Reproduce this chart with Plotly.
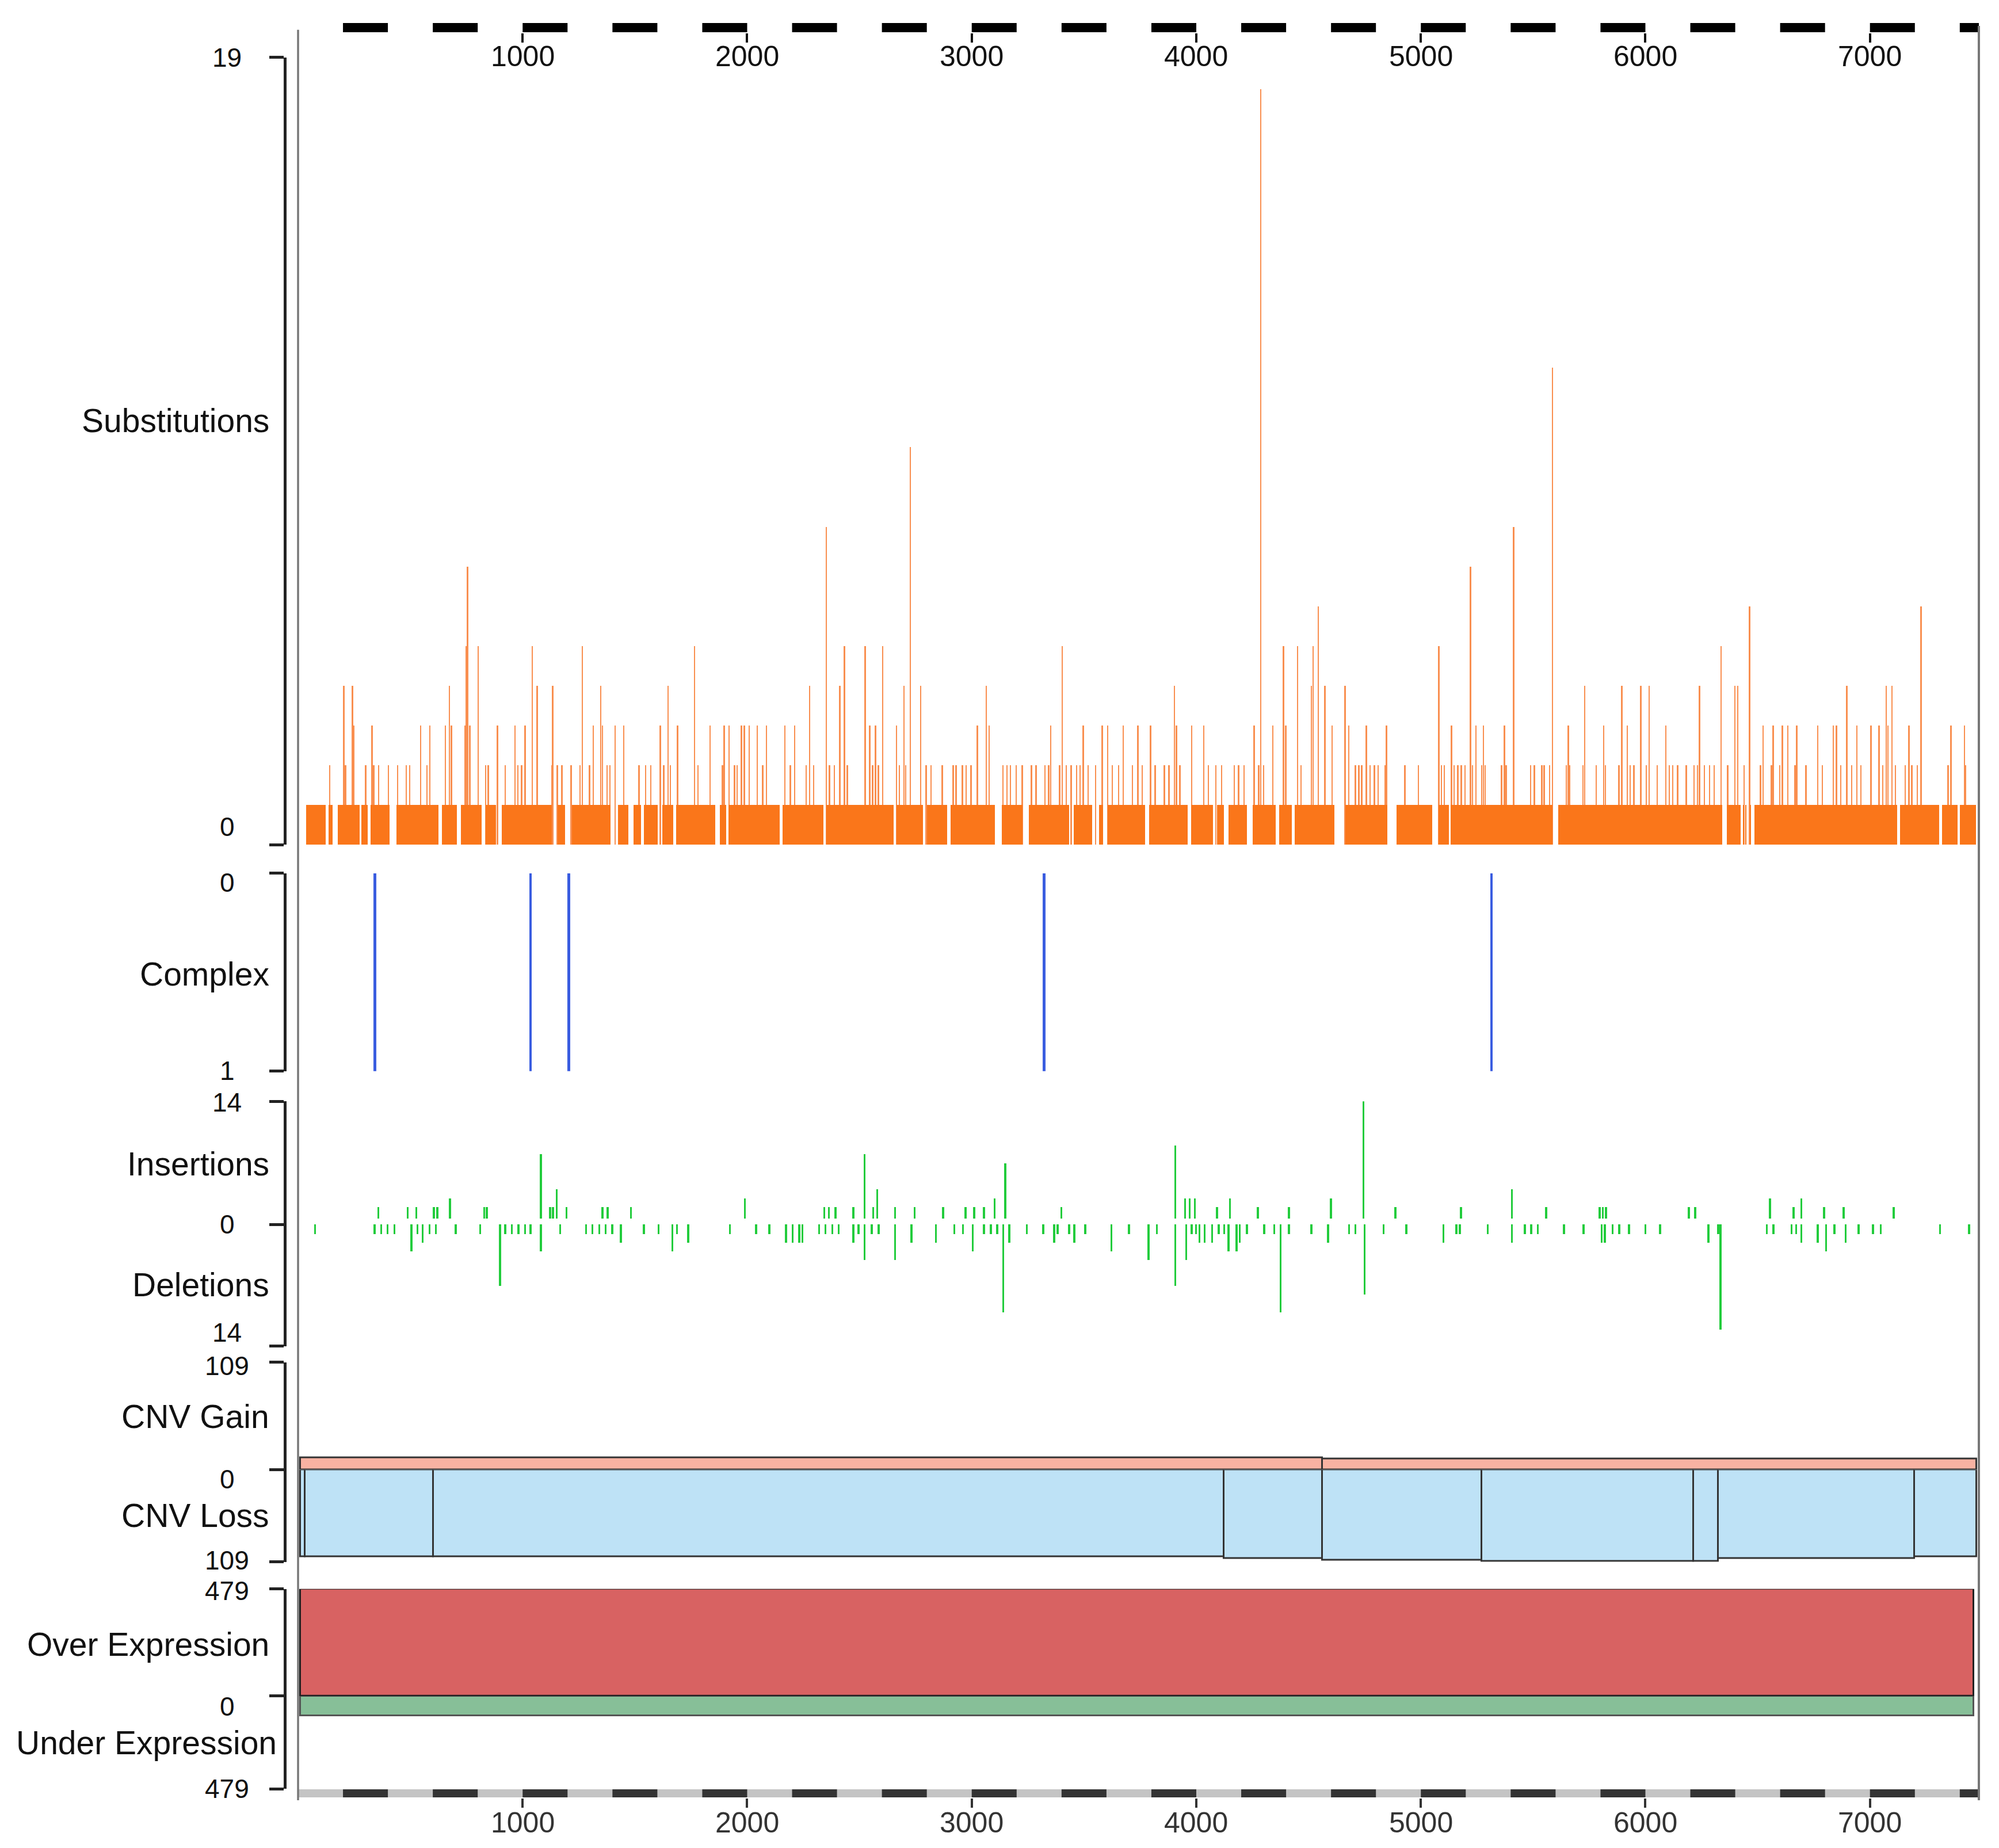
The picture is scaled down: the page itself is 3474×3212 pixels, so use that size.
import plotly.graph_objects as go

# ---------------------------------------------------------------------------
# data (protein positions, aa)
# ---------------------------------------------------------------------------
x_max = 7485
ruler_ticks = [1000, 2000, 3000, 4000, 5000, 6000, 7000]

# substitutions: stretches where every position carries one substitution
sub_single_runs = [
    (36, 122), (137, 153), (176, 273), (281, 309), (323, 407), (439, 626),
    (640, 706), (725, 817), (836, 882), (908, 1130), (1155, 1188), (1220, 1392),
    (1425, 1470), (1493, 1526), (1539, 1601), (1621, 1670), (1683, 1858),
    (1879, 1907), (1918, 2144), (2157, 2340), (2353, 2653), (2666, 2784),
    (2800, 2890), (2907, 3103), (3135, 3225), (3255, 3434), (3454, 3536),
    (3568, 3585), (3606, 3773), (3789, 3961), (3977, 4075), (4091, 4124),
    (4144, 4225), (4251, 4353), (4369, 4426), (4439, 4614), (4663, 4851),
    (4892, 5051), (5079, 5124), (5133, 5587), (5612, 6342), (6362, 6424),
    (6485, 7122), (7133, 7309), (7320, 7390), (7401, 7471),
]
sub_single_pos = [6437, 6448, 6469]

# substitutions: positions hit more than once
sub_multi_pos = [
    142, 204, 212, 243, 248, 302, 330, 338, 359, 403, 444, 482, 498, 546, 575,
    588, 657, 675, 683, 745, 750, 755, 766, 802, 836, 848, 889, 923, 967, 979,
    996, 1011, 1044, 1065, 1130, 1135, 1155, 1176, 1217, 1256, 1266, 1299, 1315,
    1348, 1356, 1376, 1389, 1413, 1451, 1519, 1549, 1572, 1614, 1629, 1648, 1658,
    1691, 1766, 1781, 1836, 1890, 1898, 1920, 1944, 1956, 1975, 1988, 2010, 2046,
    2070, 2086, 2168, 2193, 2212, 2263, 2278, 2296, 2353, 2367, 2389, 2413, 2434,
    2446,
    2526, 2547, 2559, 2572, 2585, 2604, 2666, 2678, 2699, 2707, 2727, 2773, 2797,
    2820, 2869, 2918, 2931, 2959, 2975, 2997, 3026, 3065, 3078, 3140, 3157, 3173,
    3198, 3225, 3266, 3287, 3327, 3343, 3353, 3392, 3403, 3421, 3443, 3467, 3483,
    3497, 3519, 3552, 3582, 3606, 3626, 3655, 3675, 3716, 3740, 3760, 3797, 3817,
    3859, 3879, 3903, 3912, 3928, 3980, 4034, 4055, 4088, 4113, 4170, 4189, 4214,
    4258, 4279, 4287, 4300, 4341, 4389, 4399, 4451, 4467, 4513, 4521, 4544, 4573,
    4606, 4663, 4680, 4709, 4725, 4737, 4758, 4774, 4794, 4810, 4843, 4848, 4930,
    4990,
    5081, 5092, 5105, 5137, 5149, 5165, 5181, 5198, 5222, 5230, 5246, 5271, 5279,
    5287, 5360, 5373, 5381, 5414, 5490, 5506, 5539, 5550, 5574, 5587, 5649, 5657,
    5664, 5722, 5730, 5782, 5815, 5823, 5883, 5896, 5920, 5933, 5949, 5980, 6005,
    6018, 6053, 6091, 6107, 6123, 6144, 6183, 6217, 6232, 6242, 6264, 6286, 6307,
    6338, 6367, 6399, 6412, 6440, 6464, 6513, 6524, 6562, 6570, 6599, 6610, 6635,
    6667, 6675, 6716, 6768, 6789, 6838, 6851, 6870, 6898, 6919, 6943, 6960, 7005,
    7041, 7057, 7073, 7081, 7098, 7114, 7158, 7174, 7187, 7211, 7228, 7349, 7361,
    7422, 7427,
]
sub_multi_count = [
    2, 4, 2, 4, 3, 2, 3, 2, 2, 2, 2, 2, 2, 3, 2,
    3, 3, 4, 3, 3, 5, 7, 3, 5, 2, 2, 3, 2, 3, 2,
    2, 3, 5, 4, 2, 4, 2, 2, 2, 2, 5, 2, 3,
    4, 3, 2, 2, 3, 3, 2, 2, 2, 3, 2, 4, 2,
    3, 5, 2, 3, 2, 3, 3, 2, 2, 3, 3, 3, 3,
    2, 3, 3, 2, 3, 2, 4, 2, 8, 2, 2, 4, 5,
    2,
    5, 3, 2, 3, 2, 5, 3, 2, 4, 2, 10, 4, 2,
    2, 2, 2, 2, 2, 2, 2, 3, 4, 3, 2, 2, 2,
    2, 2, 2, 2, 2, 2, 3, 2, 5, 2, 2, 2, 2,
    3, 2, 2, 3, 3, 2, 2, 3, 2, 3, 2, 3, 2,
    2, 2, 4, 3, 2, 3, 3, 2, 2, 2, 2, 2, 2,
    3, 2, 19, 2, 3, 5, 3, 5, 2, 4, 5, 6, 4,
    3, 4, 3, 2, 2, 2, 3, 2, 2, 2, 2, 3, 2,
    2,
    5, 2, 2, 3, 2, 2, 2, 2, 7, 2, 3, 2, 3,
    2, 2, 3, 2, 8, 2, 2, 2, 2, 2, 12, 2, 3,
    2, 2, 4, 2, 3, 2, 2, 4, 3, 2, 2, 4, 2,
    4, 2, 3, 2, 2, 2, 2, 2, 2, 4, 2, 2, 2,
    5, 2, 4, 4, 2, 6, 2, 3, 2, 3, 2, 3, 3,
    2, 3, 2, 3, 2, 3, 3, 2, 4, 2, 3, 2, 3,
    3, 2, 4, 3, 4, 2, 2, 3, 2, 2, 6, 2, 3,
    3, 2,
]

complex_pos = [342, 1035, 1206, 3322, 5314]

ins_pos = [
    358, 488, 526, 605, 620, 676, 829, 840, 1082, 1123, 1135, 1152, 1196, 1355,
    1379, 1482, 1990, 2343, 2364, 2393, 2473, 2523, 2561, 2579, 2658, 2746, 2873,
    2973, 3011, 3055, 3102, 3149, 3399, 3906, 3950, 3970, 3993, 4092, 4150, 4274,
    4413, 4599, 4744, 4886, 5179, 5405, 5558, 5796, 5811, 5825, 6193, 6222, 6555,
    6660, 6695, 6796, 6883, 7106,
]
ins_count = [
    1, 1, 1, 1, 1, 2, 1, 1, 7, 1, 1, 3, 1, 1,
    1, 1, 2, 1, 1, 1, 1, 7, 1, 3, 1, 1, 1,
    1, 1, 1, 2, 6, 1, 8, 2, 2, 2, 1, 2, 1,
    1, 2, 14, 1, 1, 3, 1, 1, 1, 1, 1, 1, 2,
    1, 2, 1, 1, 1,
]

del_pos = [
    76, 341, 370, 399, 429, 505, 532, 555, 585, 614, 702, 811, 899, 923, 952, 982,
    1011, 1035, 1082, 1167, 1282, 1311, 1341, 1370, 1399, 1438, 1540, 1605, 1667,
    1687, 1737, 1923, 2040, 2099, 2173, 2202, 2232, 2246, 2320, 2349, 2379, 2408,
    2473, 2496, 2523, 2555, 2585, 2658, 2732, 2840, 2923, 2961, 3005, 3055, 3085,
    3114, 3140, 3167, 3245, 3318, 3367, 3382, 3434, 3457, 3506, 3622, 3700, 3787,
    3825, 3906, 3955, 3979, 3999, 4014, 4037, 4071, 4100, 4124, 4144, 4179, 4193,
    4225, 4303, 4347, 4376, 4413, 4512, 4587, 4680, 4709, 4750, 4834, 4935, 5100,
    5158, 5173, 5298, 5405, 5463, 5492, 5521, 5637, 5724, 5805, 5819, 5854, 5883,
    5927, 6000, 6066, 6280, 6324, 6335, 6541, 6570, 6651, 6671, 6695, 6767, 6805,
    6842, 6892, 6950, 7014, 7048, 7312, 7442,
]
del_count = [
    1, 1, 1, 1, 1, 3, 1, 2, 1, 1, 1, 1, 7, 1, 1, 1,
    1, 1, 3, 1, 1, 1, 1, 1, 1, 2, 1, 1, 3,
    1, 2, 1, 1, 1, 2, 2, 2, 2, 1, 1, 1, 1,
    2, 1, 4, 1, 1, 4, 2, 2, 1, 1, 3, 1, 1,
    1, 10, 2, 1, 1, 2, 1, 1, 2, 1, 3, 1, 4,
    1, 7, 4, 1, 1, 2, 2, 2, 1, 1, 3, 3, 2,
    1, 1, 1, 10, 1, 1, 2, 1, 1, 8, 1, 1, 2,
    1, 1, 1, 2, 1, 1, 1, 1, 1, 2, 2, 1, 1,
    1, 1, 1, 2, 1, 12, 1, 1, 1, 1, 2, 2, 3,
    1, 2, 1, 1, 1, 1, 1,
]

cnv_gain_start = [11, 4561]
cnv_gain_end = [4561, 7475]
cnv_gain_value = [12, 11]

cnv_loss_start = [11, 32, 602, 4122, 4561, 5271, 6215, 6324, 7198]
cnv_loss_end = [32, 602, 4122, 4561, 5271, 6215, 6324, 7198, 7475]
cnv_loss_value = [103, 103, 103, 105, 107, 108, 108, 105, 103]

expr_start = [11]
expr_end = [7463]
over_value = [479]
under_value = [102]

# ---------------------------------------------------------------------------
# styling
# ---------------------------------------------------------------------------
W, H = 3474, 3212
FONT = "Liberation Sans, Arial, Helvetica, sans-serif"
X_DOMAIN = [518 / W, 3439 / W]
AXIS_POS = 495 / W
TICK_LABEL_X = 394.5 / W


def py(full_px):
    """paper y from pixel row measured from the top"""
    return 1 - full_px / H


def spans(starts, ends):
    mids = [(a + b) / 2 for a, b in zip(starts, ends)]
    widths = [b - a for a, b in zip(starts, ends)]
    return mids, widths


fig = go.Figure()

# substitutions
fig.add_trace(go.Bar(
    x=sub_multi_pos, y=sub_multi_count, width=5,
    marker=dict(color="#F98F50", line=dict(width=0)),
    xaxis="x", yaxis="y", cliponaxis=False))
run_mid, run_w = spans([a for a, _ in sub_single_runs], [b for _, b in sub_single_runs])
fig.add_trace(go.Bar(
    x=run_mid + sub_single_pos, y=[1] * (len(run_mid) + len(sub_single_pos)),
    width=run_w + [5] * len(sub_single_pos),
    marker=dict(color="#FA761A", line=dict(width=0)),
    xaxis="x", yaxis="y"))

# complex
fig.add_trace(go.Bar(
    x=complex_pos, y=[1] * len(complex_pos), width=11,
    marker=dict(color="#3A5DE0", line=dict(width=0)),
    xaxis="x", yaxis="y2"))

# insertions / deletions (insertions sit a little above the zero line)
fig.add_trace(go.Bar(
    x=ins_pos, y=[c + 0.3 for c in ins_count], base=0.65, width=9,
    marker=dict(color="#22CC3C", line=dict(width=0)),
    xaxis="x", yaxis="y3", cliponaxis=False))
fig.add_trace(go.Bar(
    x=del_pos, y=[c + 0.1 for c in del_count], width=9,
    marker=dict(color="#22CC3C", line=dict(width=0)),
    xaxis="x", yaxis="y4"))

# CNV
gm, gw = spans(cnv_gain_start, cnv_gain_end)
fig.add_trace(go.Bar(
    x=gm, y=cnv_gain_value, width=gw,
    marker=dict(color="#F8B2A2", line=dict(color="#333333", width=3)),
    xaxis="x", yaxis="y5"))
lm, lw = spans(cnv_loss_start, cnv_loss_end)
fig.add_trace(go.Bar(
    x=lm, y=cnv_loss_value, width=lw,
    marker=dict(color="#BEE2F6", line=dict(color="#333333", width=3)),
    xaxis="x", yaxis="y6"))

# expression
em, ew = spans(expr_start, expr_end)
fig.add_trace(go.Bar(
    x=em, y=over_value, width=ew,
    marker=dict(color="#D86262", line=dict(color="#222222", width=3)),
    xaxis="x", yaxis="y7"))
fig.add_trace(go.Bar(
    x=em, y=under_value, width=ew,
    marker=dict(color="#87BF98", line=dict(color="#555555", width=3)),
    xaxis="x", yaxis="y8"))

# rulers (dashed position bars above and below)
dash_x, dash_y = [], []
for s in range(200, x_max, 400):
    dash_x += [s, min(s + 200, x_max), None]
    dash_y += [0, 0, None]
fig.add_trace(go.Scatter(
    x=dash_x, y=dash_y, mode="lines", line=dict(color="#000000", width=16),
    xaxis="x2", yaxis="y9", hoverinfo="skip"))
fig.add_trace(go.Scatter(
    x=[0, x_max], y=[0, 0], mode="lines", line=dict(color="#C4C4C4", width=14),
    xaxis="x3", yaxis="y10", hoverinfo="skip"))
fig.add_trace(go.Scatter(
    x=dash_x, y=dash_y, mode="lines", line=dict(color="#333333", width=14),
    xaxis="x3", yaxis="y10", hoverinfo="skip"))

# ---------------------------------------------------------------------------
# axes
# ---------------------------------------------------------------------------
def track_axis(top_px, bottom_px, rng, tickvals):
    return dict(
        domain=[py(bottom_px), py(top_px)], range=rng, anchor="free",
        position=AXIS_POS, showline=True, linecolor="#222222", linewidth=5,
        ticks="outside", ticklen=25, tickwidth=5, tickcolor="#222222",
        tickvals=tickvals, showticklabels=False, showgrid=False,
        zeroline=False, automargin=False, fixedrange=True)


ruler_axis = dict(
    domain=X_DOMAIN, range=[0, x_max], showline=False, showgrid=False,
    zeroline=False, ticks="outside", ticklen=16, tickwidth=3.5,
    tickvals=ruler_ticks, showticklabels=False, automargin=False, fixedrange=True)

fig.update_layout(
    width=W, height=H, margin=dict(l=0, r=0, t=0, b=0, pad=0),
    paper_bgcolor="white", plot_bgcolor="white", showlegend=False,
    barmode="overlay", bargap=0, font=dict(family=FONT, color="#111111"),
    xaxis=dict(domain=X_DOMAIN, range=[0, x_max], visible=False, anchor="y",
               automargin=False, fixedrange=True),
    xaxis2=dict(ruler_axis, anchor="y9", tickcolor="#111111"),
    xaxis3=dict(ruler_axis, anchor="y10", tickcolor="#333333"),
    yaxis=track_axis(99.7, 1468.1, [0, 19.8], [0, 19.8]),
    yaxis2=track_axis(1517.5, 1861.8, [1, 0], [0, 1]),
    yaxis3=track_axis(1914.3, 2128.1, [0, 14], [0, 14]),
    yaxis4=track_axis(2128.1, 2339.7, [14, 0], [14]),
    yaxis5=track_axis(2367.6, 2554.6, [0, 109], [0, 109]),
    yaxis6=track_axis(2554.6, 2714.8, [109, 0], [109]),
    yaxis7=track_axis(2761.7, 2947.9, [0, 479], [0, 479]),
    yaxis8=track_axis(2947.9, 3109.1, [479, 0], [479]),
    yaxis9=dict(domain=[py(56.5), py(39.5)], range=[-1, 1], visible=False,
                anchor="x2", automargin=False, fixedrange=True),
    yaxis10=dict(domain=[py(3124.5), py(3109.5)], range=[-1, 1], visible=False,
                 anchor="x3", automargin=False, fixedrange=True),
)

# ruler labels on the shared position scale
for t in ruler_ticks:
    fig.add_annotation(text=str(t), xref="x2", yref="paper", x=t, y=py(98),
                       xanchor="center", yanchor="middle", showarrow=False,
                       font=dict(size=50, color="#111111", family=FONT))
    fig.add_annotation(text=str(t), xref="x3", yref="paper", x=t, y=py(3168),
                       xanchor="center", yanchor="middle", showarrow=False,
                       font=dict(size=50, color="#333333", family=FONT))

# frame lines left and right of the tracks
fig.add_shape(type="line", xref="paper", yref="paper", x0=X_DOMAIN[0], x1=X_DOMAIN[0],
              y0=py(51.7), y1=py(3129), line=dict(color="#777777", width=3.5))
fig.add_shape(type="line", xref="paper", yref="paper", x0=X_DOMAIN[1], x1=X_DOMAIN[1],
              y0=py(45), y1=py(3129), line=dict(color="#777777", width=4))

# y tick labels, placed on each track's own scale
# (axis, value, label, vertical nudge in px as in the reference)
tick_labels = [
    ("y", 19.8, "19", 0), ("y", 0, "0", 31),
    ("y2", 0, "0", -16), ("y2", 1, "1", 1),
    ("y3", 14, "14", -2), ("y3", 0, "0", 0),
    ("y4", 14, "14", 24),
    ("y5", 109, "109", -6), ("y5", 0, "0", -16),
    ("y6", 109, "109", 3),
    ("y7", 479, "479", -3), ("y7", 0, "0", -18),
    ("y8", 479, "479", 0),
]
for axis, value, label, nudge in tick_labels:
    fig.add_annotation(text=label, xref="paper", yref=axis, x=TICK_LABEL_X, y=value,
                       xanchor="center", yanchor="middle", yshift=nudge,
                       showarrow=False, font=dict(size=46, color="#111111", family=FONT))

# track titles
titles = [
    ("Substitutions", 731.1, 469.7),
    ("Complex", 1692.7, 469.7),
    ("Insertions", 2022.8, 469.7),
    ("Deletions", 2233.3, 469.7),
    ("CNV Gain", 2461.5, 469.7),
    ("CNV Loss", 2634.4, 469.7),
    ("Over Expression", 2858.1, 469.7),
    ("Under Expression", 3028.7, 483.0),
]
for text, y_px, x_px in titles:
    fig.add_annotation(text=text, xref="paper", yref="paper", x=x_px / W, y=py(y_px),
                       xanchor="right", yanchor="middle", showarrow=False,
                       font=dict(size=57, color="#111111", family=FONT))

fig.write_html("out.html", config={"displayModeBar": False},
               post_script="document.body.style.margin='0px';")
